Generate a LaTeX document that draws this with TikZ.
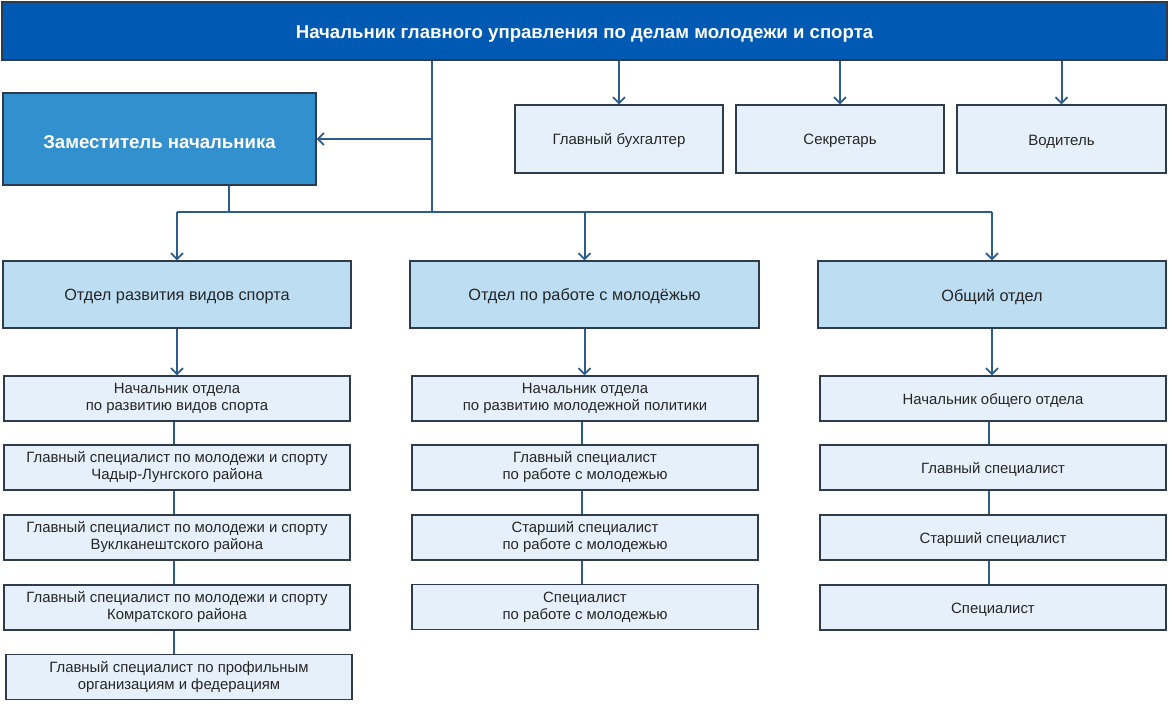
\documentclass[tikz,border=0pt]{standalone}
\usepackage{fontspec}
\setmainfont{Liberation Sans}
\usetikzlibrary{arrows.meta}
\definecolor{topblue}{HTML}{0059B3}
\definecolor{depblue}{HTML}{3390CE}
\definecolor{deptblue}{HTML}{BCDDF2}
\definecolor{subblue}{HTML}{E6F0FA}
\definecolor{edgec}{HTML}{2E3B4A}
\definecolor{linec}{HTML}{2D5C8E}
\definecolor{txt}{HTML}{262626}
\tikzset{
  base/.style={draw=edgec, line width=1.2pt, inner sep=0pt, align=center, text=txt,
    execute at begin node={\rule{0pt}{1em}}},
  topbox/.style={base, fill=topblue, text=white, font=\bfseries\fontsize{18.6}{22}\selectfont},
  depbox/.style={base, fill=depblue, text=white, font=\bfseries\fontsize{18.6}{22}\selectfont},
  deptbox/.style={base, fill=deptblue, font=\fontsize{16.3}{19}\selectfont},
  staffbox/.style={base, fill=subblue, font=\fontsize{15}{18}\selectfont},
  subbox/.style={base, fill=subblue, font=\fontsize{14.9}{17}\selectfont},
  ln/.style={draw=linec, line width=2pt},
  arr/.style={ln, -{Straight Barb[length=6pt,width=12pt,line width=1.8pt]}},
}
\begin{document}
\begin{tikzpicture}[x=1pt,y=-1pt]
\useasboundingbox (0,0) rectangle (1170,704);
\fill[white] (0,0) rectangle (1170,704);
% top
\node[topbox, minimum width=1165pt, minimum height=58pt] (top) at (584.5,31) {Начальник главного управления по делам молодежи и спорта};
\node[depbox, minimum width=313pt, minimum height=92pt] (dep) at (159.5,139) {Заместитель начальника};
\node[staffbox, minimum width=208pt, minimum height=68pt] (buh) at (619,139) {Главный бухгалтер};
\node[staffbox, minimum width=208pt, minimum height=68pt] (sec) at (840,139) {Секретарь};
\node[staffbox, minimum width=209pt, minimum height=68pt] (drv) at (1061.5,139) {Водитель};
% departments
\node[deptbox, minimum width=348pt, minimum height=67pt] (d1) at (177,294.5) {Отдел развития видов спорта};
\node[deptbox, minimum width=349pt, minimum height=67pt] (d2) at (584.5,294.5) {Отдел по работе с молодёжью};
\node[deptbox, minimum width=348pt, minimum height=67pt] (d3) at (992,294.5) {Общий отдел};
% left column
\node[subbox, minimum width=346pt, minimum height=45pt] (l1) at (177,398.5) {Начальник отдела\\по развитию видов спорта};
\node[subbox, minimum width=346pt, minimum height=45pt] (l2) at (177,467.5) {Главный специалист по молодежи и спорту\\Чадыр-Лунгского района};
\node[subbox, minimum width=346pt, minimum height=45pt] (l3) at (177,537.5) {Главный специалист по молодежи и спорту\\Вуклканештского района};
\node[subbox, minimum width=346pt, minimum height=45pt] (l4) at (177,607.5) {Главный специалист по молодежи и спорту\\Комратского района};
\node[subbox, minimum width=346pt, minimum height=45pt] (l5) at (179,677) {Главный специалист по профильным\\организациям и федерациям};
% middle column
\node[subbox, minimum width=346pt, minimum height=45pt] (m1) at (585,398.5) {Начальник отдела\\по развитию молодежной политики};
\node[subbox, minimum width=346pt, minimum height=45pt] (m2) at (585,467.5) {Главный специалист\\по работе с молодежью};
\node[subbox, minimum width=346pt, minimum height=45pt] (m3) at (585,537.5) {Старший специалист\\по работе с молодежью};
\node[subbox, minimum width=346pt, minimum height=45pt] (m4) at (585,607) {Специалист\\по работе с молодежью};
% right column
\node[subbox, minimum width=346pt, minimum height=45pt] (r1) at (993,398.5) {Начальник общего отдела};
\node[subbox, minimum width=346pt, minimum height=45pt] (r2) at (993,467.5) {Главный специалист};
\node[subbox, minimum width=346pt, minimum height=45pt] (r3) at (993,537.5) {Старший специалист};
\node[subbox, minimum width=346pt, minimum height=45pt] (r4) at (993,607.5) {Специалист};
% junction coordinates
\coordinate (j1) at (432,212);
\coordinate (j2) at (229,212);
\coordinate (c1) at (177,212);
\coordinate (c3) at (992,212);
\coordinate (lx) at (174,0);
\coordinate (mx) at (582,0);
\coordinate (rx) at (989,0);
% connectors from top
\draw[arr] (top.south -| buh.north) -- (buh.north);
\draw[arr] (top.south -| sec.north) -- (sec.north);
\draw[arr] (top.south -| drv.north) -- (drv.north);
\draw[ln] (top.south -| j1) -- (j1);
\draw[arr] (dep.east -| j1) -- (dep.east);
\draw[ln] (dep.south -| j2) -- (j2);
\draw[ln] (c1) -- (c3);
\draw[arr] (d1.north |- c1) -- (d1.north);
\draw[arr] (d2.north |- c1) -- (d2.north);
\draw[arr] (d3.north |- c1) -- (d3.north);
% departments to heads
\draw[arr] (d1.south) -- (d1.south |- l1.north);
\draw[arr] (d2.south) -- (d2.south |- m1.north);
\draw[arr] (d3.south) -- (d3.south |- r1.north);
% column links
\draw[ln] (l1.south -| lx) -- (l2.north -| lx);
\draw[ln] (l2.south -| lx) -- (l3.north -| lx);
\draw[ln] (l3.south -| lx) -- (l4.north -| lx);
\draw[ln] (l4.south -| lx) -- (l5.north -| lx);
\draw[ln] (m1.south -| mx) -- (m2.north -| mx);
\draw[ln] (m2.south -| mx) -- (m3.north -| mx);
\draw[ln] (m3.south -| mx) -- (m4.north -| mx);
\draw[ln] (r1.south -| rx) -- (r2.north -| rx);
\draw[ln] (r2.south -| rx) -- (r3.north -| rx);
\draw[ln] (r3.south -| rx) -- (r4.north -| rx);
\end{tikzpicture}
\end{document}
